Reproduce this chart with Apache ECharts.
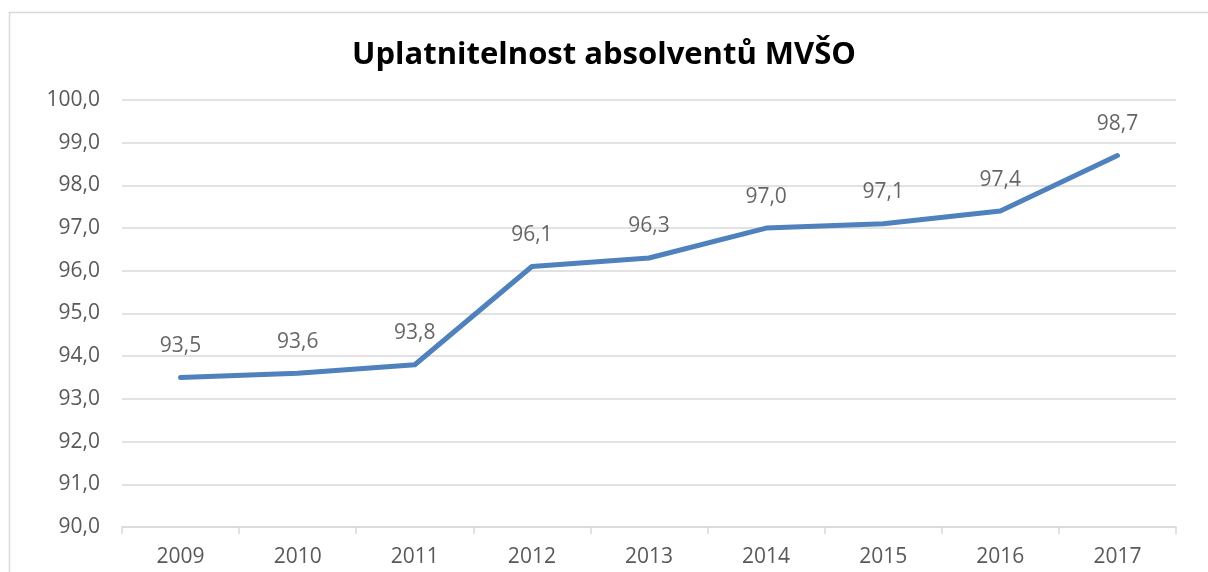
<!DOCTYPE html>
<html><head><meta charset="utf-8">
<script src="https://cdn.jsdelivr.net/npm/echarts@6/dist/echarts.min.js"></script>
<style>html,body{margin:0;padding:0;background:#fff}#c{width:1208px;height:572px}</style>
</head><body><div id="c"></div>
<script>
const title = 'Uplatnitelnost absolventů MVŠO';
const years = ['2009','2010','2011','2012','2013','2014','2015','2016','2017'];
const values = [93.5, 93.6, 93.8, 96.1, 96.3, 97.0, 97.1, 97.4, 98.7];
const yMin = 90, yMax = 100, yStep = 1;

const fmt = v => v.toFixed(1).replace('.', ',');
const chart = echarts.init(document.getElementById('c'), null, {renderer:'canvas'});
chart.setOption({
  animation: false,
  backgroundColor: '#fff',
  textStyle: {fontFamily: 'Open Sans'},
  graphic: [{type:'rect', shape:{x:9.5, y:12.5, width:1300, height:700}, style:{fill:'none', stroke:'#d9d9d9', lineWidth:1.5}, silent:true}],
  title: {text: title, left: 'center', top: 35,
    textStyle: {fontFamily: 'Open Sans', fontWeight: 'bold', fontSize: 31, color: '#000'}},
  grid: {left: 122, right: 32, top: 100, bottom: 45},
  xAxis: {type: 'category', data: years, boundaryGap: true,
    axisLine: {lineStyle: {color: '#d9d9d9', width: 1.5}},
    axisTick: {show: true, length: 7, lineStyle: {color: '#d9d9d9', width: 1.5}},
    axisLabel: {color: '#595959', fontSize: 21, margin: 20}},
  yAxis: {type: 'value', min: yMin, max: yMax, interval: yStep,
    axisLine: {show: false}, axisTick: {show: false},
    splitLine: {lineStyle: {color: '#d9d9d9', width: 1.5}},
    axisLabel: {color: '#595959', fontSize: 21, margin: 22, formatter: v => fmt(v)}},
  series: [
    {type: 'line', data: values, showSymbol: false, symbol: 'none', z: 2,
      lineStyle: {color: '#4f81bd', width: 5, cap: 'round', join: 'round'}},
    {type: 'scatter', data: values, symbol: 'circle', symbolSize: 2, z: 3,
      itemStyle: {color: 'rgba(0,0,0,0)'},
      label: {show: true, position: 'top', distance: 20, color: '#404040', fontSize: 21,
        fontFamily: 'Open Sans', formatter: p => fmt(p.value)}}
  ]
});
</script></body></html>
